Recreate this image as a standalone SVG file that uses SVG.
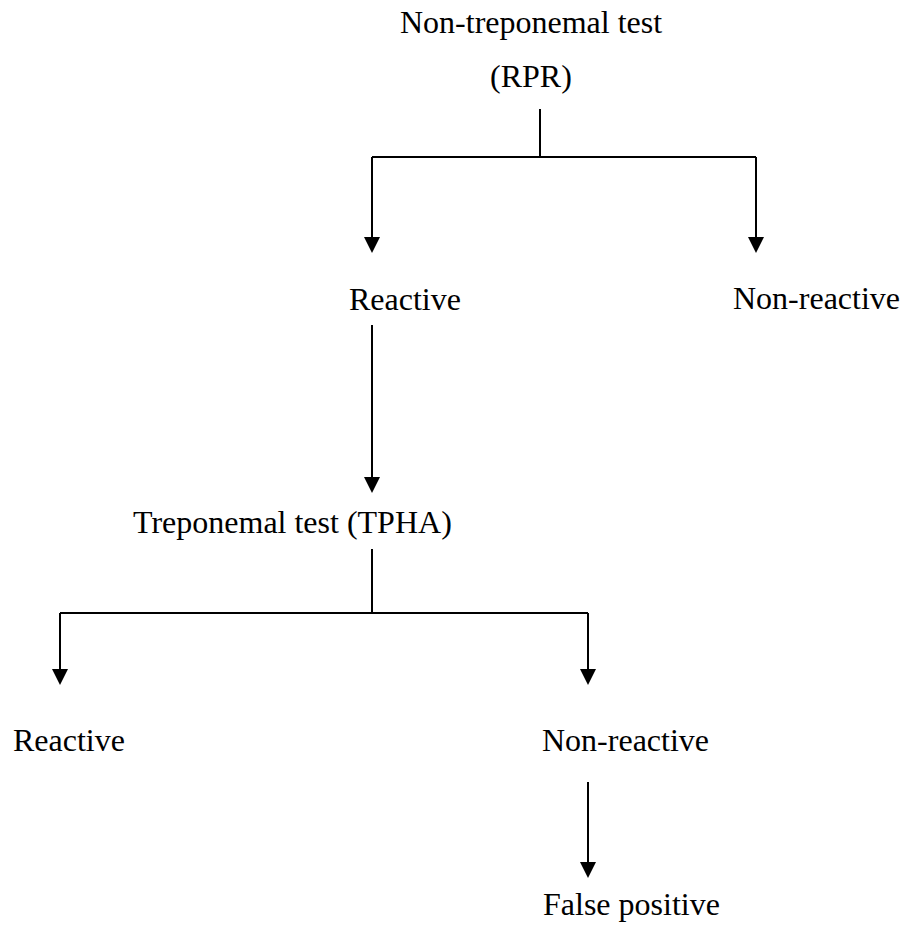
<svg xmlns="http://www.w3.org/2000/svg" width="905" height="926" viewBox="0 0 905 926">
  <style>
    .label { font-family: "Liberation Serif", "Times New Roman", serif; font-size: 32px; fill: #000; }
    .wire { fill: none; stroke: #000; stroke-width: 2; }
    .arrow { marker-end: url(#head); }
  </style>
  <defs>
    <marker id="head" viewBox="0 0 16 16" refX="0" refY="8" markerWidth="16" markerHeight="16" markerUnits="userSpaceOnUse" orient="auto">
      <path d="M0,0 L16,8 L0,16 Z" fill="#000"/>
    </marker>
  </defs>
  <rect width="905" height="926" fill="#fff"/>

  <g id="connectors">
    <!-- RPR split -->
    <path class="wire" d="M540,109 V157 M372,157 H756"/>
    <path class="wire arrow" d="M372,157 V237"/>
    <path class="wire arrow" d="M756,157 V237"/>
    <!-- Reactive to TPHA -->
    <path class="wire arrow" d="M372,325 V477"/>
    <!-- TPHA split -->
    <path class="wire" d="M372,549 V613 M60,613 H588"/>
    <path class="wire arrow" d="M60,613 V669"/>
    <path class="wire arrow" d="M588,613 V669"/>
    <!-- Non-reactive to false positive -->
    <path class="wire arrow" d="M588,782 V862"/>
  </g>

  <g id="rpr">
    <text class="label" x="400" y="33">Non-treponemal test</text>
    <text class="label" x="490" y="87">(RPR)</text>
  </g>
  <g id="rpr-reactive">
    <text class="label" x="349" y="310">Reactive</text>
  </g>
  <g id="rpr-nonreactive">
    <text class="label" x="733" y="309">Non-reactive</text>
  </g>
  <g id="tpha">
    <text class="label" x="133" y="533">Treponemal test (TPHA)</text>
  </g>
  <g id="tpha-reactive">
    <text class="label" x="13" y="751">Reactive</text>
  </g>
  <g id="tpha-nonreactive">
    <text class="label" x="542" y="751">Non-reactive</text>
  </g>
  <g id="false-positive">
    <text class="label" x="543" y="915">False positive</text>
  </g>
</svg>
